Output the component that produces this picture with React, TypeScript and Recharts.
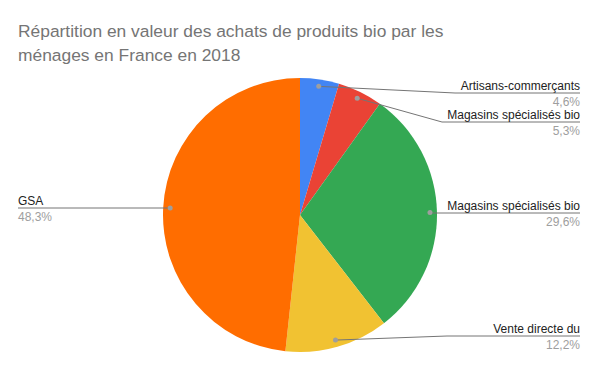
import { Pie, PieChart, Cell } from "recharts";

const names = [
  "Artisans-commerçants",
  "Magasins spécialisés bio",
  "Magasins spécialisés bio",
  "Vente directe du",
  "GSA",
];
const shares = [4.6, 5.3, 29.6, 12.2, 48.3];
const colors = ["#4285F4", "#EA4335", "#34A853", "#F1C232", "#FF6D00"];

// label layout: y of the horizontal leader, x where the leader turns flat, side
const leaderY = [93, 122, 213, 336, 208];
const kneeX = [455, 442, 432, 447, 168];
const sides = ["right", "right", "right", "right", "left"];

const data = names.map((name, i) => ({ name, value: shares[i] }));

const RAD = Math.PI / 180;
const font = "Arial, 'Liberation Sans', sans-serif";

function renderLabel(props: any) {
  const { cx, cy, midAngle, outerRadius, index, value } = props;
  const r = outerRadius - 7;
  const x0 = cx + r * Math.cos(-midAngle * RAD);
  const y0 = cy + r * Math.sin(-midAngle * RAD);
  const ly = leaderY[index];
  const kx = kneeX[index];
  const right = sides[index] === "right";
  const endX = right ? 580 : 18;
  const pct = value.toFixed(1).replace(".", ",") + "%";
  return (
    <g key={index}>
      <polyline
        points={`${x0},${y0} ${kx},${ly} ${endX},${ly}`}
        fill="none"
        stroke="#757575"
        strokeWidth={1}
      />
      <circle cx={x0} cy={y0} r={2.5} fill="#9e9e9e" />
      <text
        x={endX}
        y={ly - 3}
        textAnchor={right ? "end" : "start"}
        fontSize={12}
        fontFamily={font}
        fill="#222222"
      >
        {names[index]}
      </text>
      <text
        x={endX}
        y={ly + 13}
        textAnchor={right ? "end" : "start"}
        fontSize={12}
        fontFamily={font}
        fill="#9e9e9e"
      >
        {pct}
      </text>
    </g>
  );
}

export default function App() {
  return (
    <div style={{ position: "absolute", left: 0, top: 0, width: 600, height: 371, background: "#fff" }}>
      <PieChart width={600} height={371}>
        <text x={18} y={37} fontSize={17.4} fontFamily={font} fill="#757575">
          Répartition en valeur des achats de produits bio par les
        </text>
        <text x={18} y={61} fontSize={17.4} fontFamily={font} fill="#757575">
          ménages en France en 2018
        </text>
        <Pie
          data={data}
          dataKey="value"
          nameKey="name"
          cx={295}
          cy={210}
          outerRadius={137}
          startAngle={90}
          endAngle={-270}
          stroke="none"
          label={renderLabel}
          labelLine={false}
          isAnimationActive={false}
        >
          {data.map((_, i) => (
            <Cell key={i} fill={colors[i]} />
          ))}
        </Pie>
      </PieChart>
    </div>
  );
}
